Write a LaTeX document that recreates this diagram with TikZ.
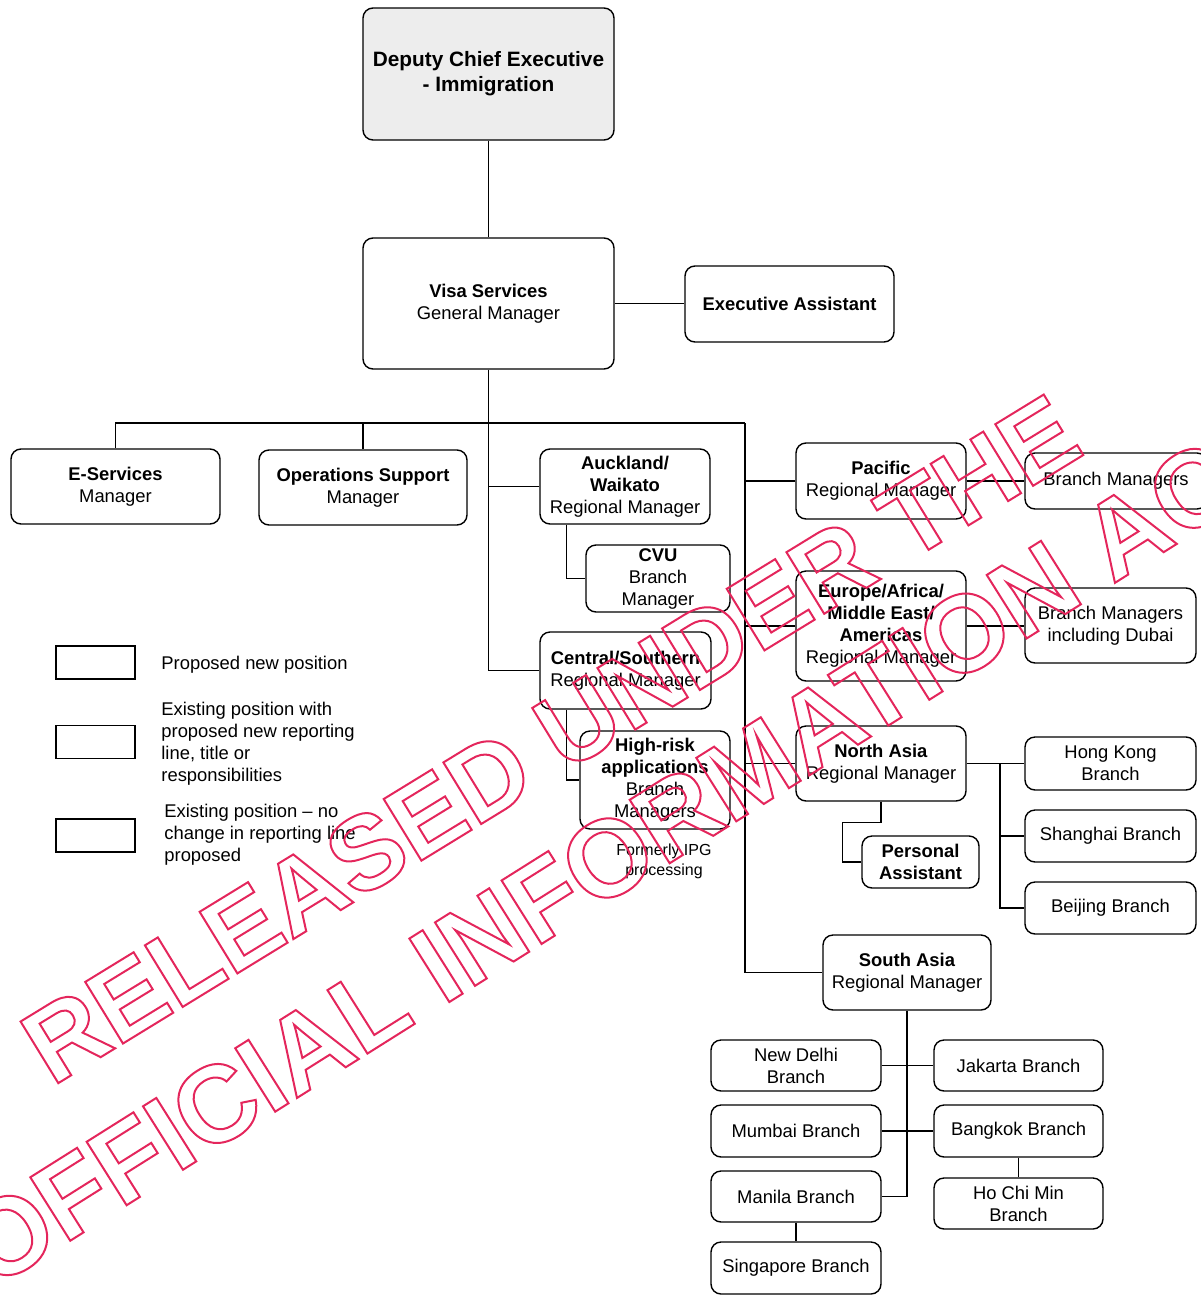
\documentclass[tikz,border=0pt]{standalone}
\usepackage{fontspec}
\setmainfont{Liberation Sans}
\usetikzlibrary{calc}
\definecolor{wmred}{RGB}{228,38,92}
\newcommand\outl[1]{\special{pdf:literal direct 1 Tr 1 w}#1\special{pdf:literal direct 0 Tr}}
\tikzset{
 rbox/.style={draw, line width=0.7pt, rounded corners=5pt, inner sep=0pt, align=center, font=\fontsize{9.2}{11}\selectfont},
 wh/.style 2 args={minimum width=#1*0.5pt, minimum height=#2*0.5pt},
 legbox/.style={draw, line width=0.6pt, inner sep=0pt, minimum width=39.5pt, minimum height=16.5pt},
 conn/.style={line width=0.6pt},
 ltext/.style={anchor=west, align=left, inner sep=0pt, font=\fontsize{9.2}{11}\selectfont},
 wmark/.style={anchor=base west, inner sep=0pt, text=wmred}
}
\begin{document}
\begin{tikzpicture}[x=0.5pt,y=-0.5pt]
\useasboundingbox (0,0) rectangle (1200,1296);
% boxes
\node[rbox, wh={251}{132}, fill=black!7, font=\bfseries\fontsize{10.4}{12.5}\selectfont] (dce) at (488.5,74) {Deputy Chief Executive\\- Immigration};
\node[rbox, wh={251}{131}] (visa) at (488.5,303.5) {\textbf{Visa Services}\\General Manager};
\node[rbox, wh={209}{76}] (exec) at (789.5,304) {\textbf{Executive Assistant}};
\node[rbox, wh={209}{75}] (eserv) at (115.5,486.5) {\textbf{E-Services}\\Manager};
\node[rbox, wh={208}{75}] (ops) at (363,487.5) {\textbf{Operations Support}\\Manager};
\node[rbox, wh={170}{75}] (auck) at (625,486.5) {\textbf{Auckland/}\\\textbf{Waikato}\\Regional Manager};
\node[rbox, wh={144}{67}] (cvu) at (658,578.5) {\textbf{CVU}\\Branch\\Manager};
\node[rbox, wh={171}{77}] (cent) at (625.5,670.5) {\textbf{Central/Southern}\\Regional Manager};
\node[rbox, wh={150}{98}] (hr) at (655,780) {\textbf{High-risk}\\\textbf{applications}\\Branch\\Managers};
\node[align=center, inner sep=0pt, font=\fontsize{8}{10}\selectfont] (ipg) at (664,861) {Formerly IPG\\processing};
\node[rbox, wh={170}{76}] (pac) at (881,481) {\textbf{Pacific}\\Regional Manager};
\node[rbox, wh={182}{56}] (bm1) at (1116,481) {Branch Managers};
\node[rbox, wh={170}{110}] (eu) at (881,626) {\textbf{Europe/Africa/}\\\textbf{Middle East/}\\\textbf{Americas}\\Regional Manager};
\node[rbox, wh={171}{75}] (bm2) at (1110.5,625.5) {Branch Managers\\including Dubai};
\node[rbox, wh={170}{75}] (na) at (881,763.5) {\textbf{North Asia}\\Regional Manager};
\node[rbox, wh={117}{52}] (pa) at (920.5,862) {\textbf{Personal}\\\textbf{Assistant}};
\node[rbox, wh={171}{53}] (hk) at (1110.5,763.5) {Hong Kong\\Branch};
\node[rbox, wh={171}{52}] (sh) at (1110.5,836) {Shanghai Branch};
\node[rbox, wh={171}{52}] (bj) at (1110.5,908) {Beijing Branch};
\node[rbox, wh={168}{75}] (sa) at (907,972.5) {\textbf{South Asia}\\Regional Manager};
\node[rbox, wh={170}{51}] (nd) at (796,1065.5) {New Delhi\\Branch};
\node[rbox, wh={169}{51}] (jk) at (1018.5,1065.5) {Jakarta Branch};
\node[rbox, wh={170}{52}] (mu) at (796,1131) {Mumbai Branch};
\node[rbox, wh={169}{52}] (bk) at (1018.5,1131) {Bangkok Branch};
\node[rbox, wh={169}{51}] (hcm) at (1018.5,1203.5) {Ho Chi Min\\Branch};
\node[rbox, wh={170}{51}] (man) at (796,1196.5) {Manila Branch};
\node[rbox, wh={170}{52}] (sg) at (796,1268) {Singapore Branch};
% legend
\node[legbox] (l1) at (95.5,662.5) {};
\node[legbox] (l2) at (95.5,742) {};
\node[legbox] (l3) at (95.5,835.5) {};
\node[ltext] (t1) at (161,665) {Proposed new position};
\node[ltext] (t2) at (161,744) {Existing position with\\proposed new reporting\\line, title or\\responsibilities};
\node[ltext] (t3) at (164,835) {Existing position -- no\\change in reporting line\\proposed};
% connectors
\coordinate (busR) at (745,423);
\coordinate (nax) at (1000,763.5);
\draw[conn] (dce.south) -- (visa.north);
\draw[conn] (visa.east) -- (visa.east -| exec.west);
\draw[conn] (eserv.north) |- (busR);
\draw[conn] (ops.north) -- (ops.north |- busR);
\draw[conn] (visa.south) |- (cent.west);
\draw[conn] (auck.west) -- (auck.west -| visa.south);
\draw[conn] ($(auck.south west)+(27,0)$) |- (cvu.west);
\draw[conn] ($(cent.south west)+(27,0)$) |- (hr.west);
\draw[conn] (busR) |- (sa.west);
\draw[conn] (pac.west) -- (pac.west -| busR);
\draw[conn] (eu.west) -- (eu.west -| busR);
\draw[conn] (na.west) -- (na.west -| busR);
\draw[conn] (pac.east) -- (bm1.west);
\draw[conn] (eu.east) -- (eu.east -| bm2.west);
\draw[conn] (na.east) -- (hk.west);
\draw[conn] (nax) |- (bj.west);
\draw[conn] (nax |- sh.west) -- (sh.west);
\draw[conn] (na.south) -- ++(0,21) -| ($(pa.west)+(-19,0)$) -- (pa.west);
\draw[conn] (sa.south) |- (man.east);
\draw[conn] (nd.east) -- (jk.west);
\draw[conn] (mu.east) -- (bk.west);
\draw[conn] (bk.south) -- (hcm.north);
\draw[conn] (man.south) -- (sg.north);
% watermark
\node[wmark, rotate=31.5, font=\bfseries\fontsize{52.5}{60}\selectfont] (wm1) at (52,1087) {\outl{RELEASED UNDER THE}};
\node[wmark, rotate=32.2, font=\bfseries\fontsize{54.5}{60}\selectfont] (wm2) at (-8,1290) {\outl{OFFICIAL INFORMATION ACT}};
\end{tikzpicture}
\end{document}
